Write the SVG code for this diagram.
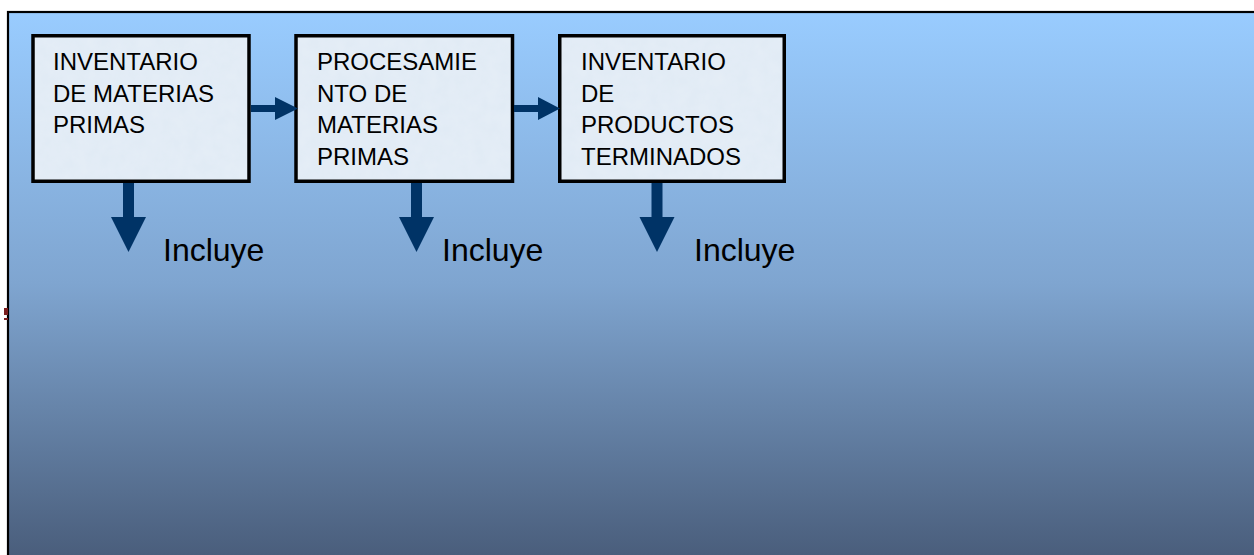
<svg xmlns="http://www.w3.org/2000/svg" width="1254" height="555" viewBox="0 0 1254 555">
<defs>
<linearGradient id="bg" gradientUnits="userSpaceOnUse" x1="0" y1="12" x2="0" y2="555">
<stop offset="0" stop-color="#99CCFF"/>
<stop offset="0.5" stop-color="#7FA5D0"/>
<stop offset="1" stop-color="#4A5E7C"/>
</linearGradient>
<filter id="tex" x="0" y="0" width="1" height="1">
<feTurbulence type="fractalNoise" baseFrequency="0.08" numOctaves="3" seed="4" result="n"/>
<feColorMatrix in="n" type="matrix" values="0 0 0 0 0.80  0 0 0 0 0.86  0 0 0 0 0.93  0 0 0 0.9 -0.2" result="c"/>
<feComposite in="c" in2="SourceGraphic" operator="in" result="m"/>
<feMerge><feMergeNode in="SourceGraphic"/><feMergeNode in="m"/></feMerge>
</filter>
<style>
.box{fill:#E1EBF5;stroke:none}
.bord{fill:none;stroke:#000;stroke-width:3.5}
.t{font-family:"Liberation Sans",Arial,sans-serif;font-size:24px;fill:#000}
.inc{font-family:"Liberation Sans",Arial,sans-serif;font-size:32px;fill:#000}
.arr{fill:#003366}
</style>
</defs>
<rect x="0" y="0" width="1254" height="555" fill="#fff"/>
<rect x="8" y="12" width="1250" height="550" fill="url(#bg)" stroke="#000" stroke-width="2.2"/>
<rect x="4" y="308" width="4" height="7" fill="#7A1E1E"/>
<rect x="4" y="318" width="4" height="2" fill="#7A1E1E"/>

<g id="node1">
<rect class="box" x="33" y="35.75" width="216" height="145.5" filter="url(#tex)"/>
<rect class="bord" x="33" y="35.75" width="216" height="145.5"/>
<text class="t" x="53" y="70">INVENTARIO</text>
<text class="t" x="53" y="101.5">DE MATERIAS</text>
<text class="t" x="53" y="133">PRIMAS</text>
</g>
<g id="node2">
<rect class="box" x="296" y="35.75" width="216.5" height="145.5" filter="url(#tex)"/>
<rect class="bord" x="296" y="35.75" width="216.5" height="145.5"/>
<text class="t" x="317" y="70">PROCESAMIE</text>
<text class="t" x="317" y="101.5">NTO DE</text>
<text class="t" x="317" y="133">MATERIAS</text>
<text class="t" x="317" y="164.5">PRIMAS</text>
</g>
<g id="node3">
<rect class="box" x="559.75" y="35.75" width="224.5" height="145.5" filter="url(#tex)"/>
<rect class="bord" x="559.75" y="35.75" width="224.5" height="145.5"/>
<text class="t" x="581" y="70">INVENTARIO</text>
<text class="t" x="581" y="101.5">DE</text>
<text class="t" x="581" y="133">PRODUCTOS</text>
<text class="t" x="581" y="164.5">TERMINADOS</text>
</g>

<g id="connectors">
<polygon class="arr" points="251,105 275,105 275,97 298,108.5 275,120 275,112 251,112"/>
<polygon class="arr" points="514,105 538,105 538,97 560,108.5 538,120 538,112 514,112"/>
<polygon class="arr" points="123,183 134,183 134,217 146,217 128.5,252 111,217 123,217"/>
<polygon class="arr" points="411,183 422,183 422,217 434,217 416.5,252 399,217 411,217"/>
<polygon class="arr" points="651.5,183 662.5,183 662.5,217 674.5,217 657,252 639.5,217 651.5,217"/>
</g>

<g id="labels">
<text class="inc" x="163" y="261">Incluye</text>
<text class="inc" x="442" y="261">Incluye</text>
<text class="inc" x="694" y="261">Incluye</text>
</g>
</svg>
